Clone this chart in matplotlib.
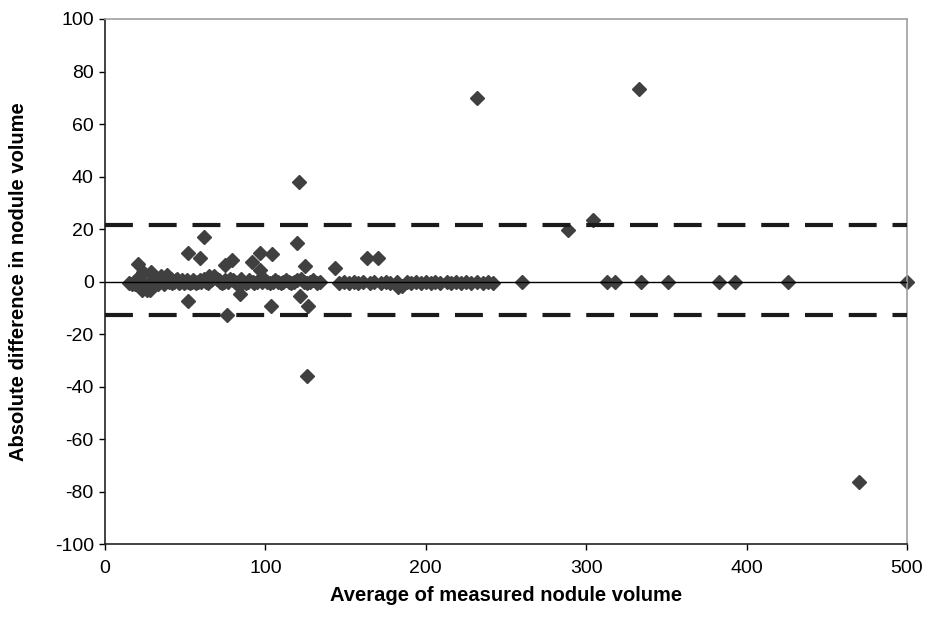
import matplotlib.pyplot as plt

plt.rcParams['font.family'] = ['Liberation Sans', 'DejaVu Sans']
plt.rcParams['axes.unicode_minus'] = False

# nodules whose two measurements agree (difference ~0)
zero_x = [15, 17, 18, 19, 20, 21, 22, 23, 24, 25, 26, 27, 28, 29, 30, 31, 32, 33,
          34, 35, 36, 37, 38, 40, 41, 42, 43, 44, 45, 46, 47, 48, 49, 50, 51, 52,
          53, 54, 55, 56, 57, 58, 59, 60, 62, 63, 64, 65, 66, 67, 68, 70, 71, 72,
          73, 74, 75, 77, 78, 80, 81, 82, 84, 85, 86, 88, 89, 90, 92, 93, 95, 96,
          98, 100, 101, 103, 105, 106, 108, 110, 111, 113, 115, 116, 118, 120, 122,
          124, 126, 128, 130, 132, 134, 146, 149, 152, 155, 158, 161, 165, 168, 172,
          175, 178, 182, 185, 188, 191, 194, 197, 200, 203, 206, 209, 213, 216, 219,
          222, 225, 228, 232, 236, 239, 242, 260, 313, 318, 334, 351, 383, 393, 426, 500]
zero_y = [-0.5, -1, 0, -1, 1, -1, 2, -2, -1, -2, -3, -1, -2, 0, 1, -1, 0, -1,
          0, 2, 0, -1, 1, 0, 1, -0.5, 0, 0.5, 1, -0.5, 0, 0.5, -0.5, 0, 0.5, 0,
          -0.5, 0, 0.5, 0, -0.5, 0, 0.5, 0, 1, 0, -0.5, 2, 0.5, 1, 2, 1, 0.5, 0,
          -0.5, 0, 0.5, 0, 1, 0.5, 0, -0.5, 0, 1, 0, -0.5, 0, 0.5, 0, -0.5, 0, 0.5,
          0, 0.5, 0, -0.5, 0, 0.5, 0, -0.5, 0, 0.5, 0, -0.5, 0, 0.5, 1,
          0, -0.5, 0, 0.5, -0.5, 0, -0.5, 0, -0.5, 0, -0.5, 0, -0.5, 0, -0.5, 0,
          -0.5, 0, -1.5, 0, -0.5, 0, -0.5, 0, -0.5, 0, -0.5, 0, -0.5, 0, -0.5,
          0, -0.5, 0, -0.5, 0, -0.5, 0, 0, 0, 0, 0, 0, 0, 0, 0]

# nodules with a visible difference
diff_x = [20.8, 24, 29, 38.4, 52, 59.3, 62, 52, 23, 28, 79, 74.8, 96.7, 104, 91.5,
          96.7, 119.6, 84.2, 75.9, 103.4, 121.6, 124.6, 126.8, 121, 143.5, 163.2,
          170.4, 183, 125.8, 232, 333, 470, 289, 304]
diff_y = [6.7, 3.5, 3.8, 2.5, 10.8, 8.9, 17, -7.4, -3, -3, 8.2, 6.3, 10.8, 10.5, 7.6,
          4.4, 14.8, -4.7, -12.7, -9.3, -5.6, 6.0, -9.3, 38, 5.3, 9.2,
          9.0, -2, -36, 70, 73.3, -76.4, 19.5, 23.5]

upper_limit = 21.4
lower_limit = -12.8

fig = plt.figure(figsize=(9.28, 6.29), dpi=100)
ax = fig.add_axes([0.1131, 0.1346, 0.8642, 0.8352])

ax.plot(zero_x + diff_x, zero_y + diff_y, linestyle='none', marker='D',
        markersize=7.2, color='#404040', zorder=2, clip_on=False)

ax.axhline(0, color='black', linewidth=1, zorder=3)
for lim in (upper_limit, lower_limit):
    ax.axhline(lim, color='#1a1a1a', linewidth=3, dashes=(6.7, 3.8), zorder=3)

ax.set_xlim(0, 500)
ax.set_ylim(-100, 100)
ax.set_xticks(range(0, 501, 100))
ax.set_yticks(range(-100, 101, 20))
ax.tick_params(direction='out', length=4, width=1, labelsize=14, colors='black')
ax.tick_params(axis='x', pad=7)
ax.tick_params(axis='y', pad=4)

for side in ('left', 'bottom'):
    ax.spines[side].set_color('#222222')
    ax.spines[side].set_linewidth(1.2)
for side in ('top', 'right'):
    ax.spines[side].set_color('#a0a0a0')
    ax.spines[side].set_linewidth(1.2)

ax.set_xlabel('Average of measured nodule volume', fontsize=14.5, fontweight='bold')
ax.set_ylabel('Absolute difference in nodule volume', fontsize=14.5, fontweight='bold')
ax.xaxis.set_label_coords(0.5, -0.097)
ax.yaxis.set_label_coords(-0.108, 0.5)
ax.xaxis.label.set_va('center')
ax.yaxis.label.set_va('center')

plt.savefig('out.png', dpi=100)
